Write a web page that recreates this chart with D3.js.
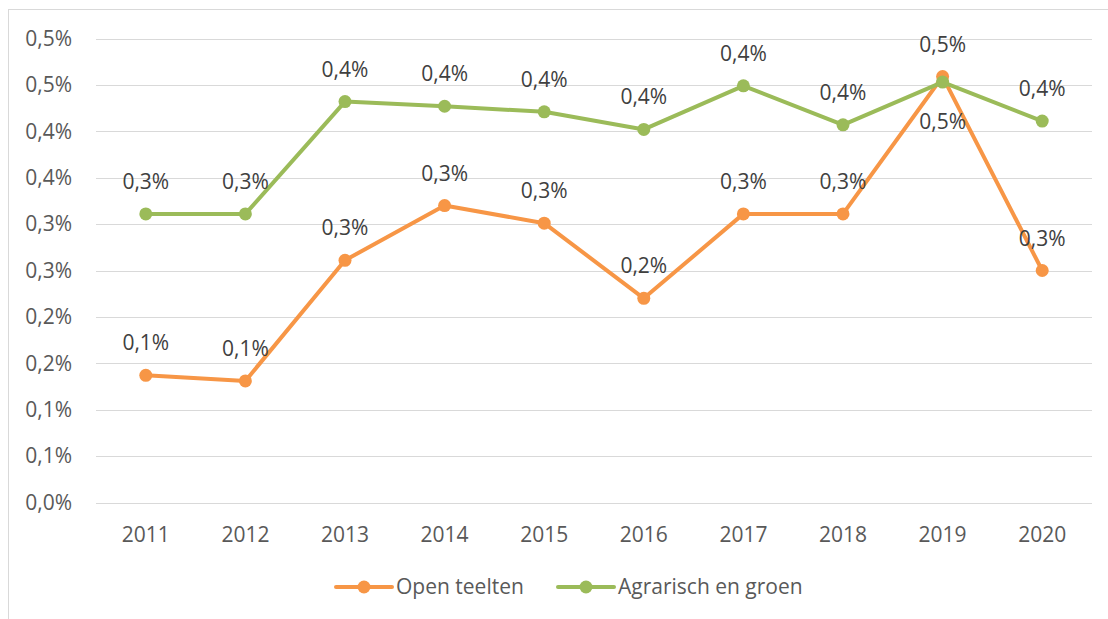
<!DOCTYPE html>
<html>
<head>
<meta charset="utf-8">
<script src="https://cdn.jsdelivr.net/npm/d3@7"></script>
<style>
  body { margin: 0; background: #fff; }
  svg { display: block; font-family: "Open Sans", "Noto Sans", sans-serif; }
</style>
</head>
<body>
<div id="chart"></div>
<script>
// Data (values in percent)
const years = ["2011", "2012", "2013", "2014", "2015", "2016", "2017", "2018", "2019", "2020"]
const openTeelten = [0.137, 0.131, 0.261, 0.320, 0.301, 0.220, 0.311, 0.311, 0.459, 0.250]
const agrarischGroen = [0.311, 0.311, 0.432, 0.427, 0.421, 0.402, 0.449, 0.407, 0.453, 0.411]
const seriesNames = ["Open teelten", "Agrarisch en groen"]
const yTicks = [0, 0.05, 0.1, 0.15, 0.2, 0.25, 0.3, 0.35, 0.4, 0.45, 0.5]

const colors = ["#F79646", "#9BBB59"]
const width = 1108, height = 619
const margin = { left: 96, right: 16, top: 38.5, bottom: 116.5 }
const fontSize = 21

// format like Excel: one decimal, comma
const fmt = v => (Math.round(v * 10 + 1e-9) / 10).toFixed(1).replace(".", ",") + "%"

const svg = d3.select("#chart").append("svg")
    .attr("width", width)
    .attr("height", height)

// chart border (only left/top visible in the crop)
svg.append("rect")
    .attr("x", 8.5).attr("y", 9.5)
    .attr("width", 1200).attr("height", 700)
    .attr("fill", "none")
    .attr("stroke", "#D9D9D9")

const xScale = d3.scaleBand()
    .domain(years)
    .range([margin.left, width - margin.right])

const yScale = d3.scaleLinear()
    .domain([0, 0.5])
    .range([height - margin.bottom, margin.top])

// gridlines
svg.append("g")
    .selectAll("line")
    .data(yTicks)
    .enter()
    .append("line")
    .attr("x1", margin.left)
    .attr("x2", width - margin.right)
    .attr("y1", d => Math.round(yScale(d)) + 0.5)
    .attr("y2", d => Math.round(yScale(d)) + 0.5)
    .attr("stroke", "#D9D9D9")
    .attr("stroke-width", 1)

// y axis
const yAxis = d3.axisLeft(yScale).tickValues(yTicks).tickFormat(fmt).tickSize(0).tickPadding(24)
svg.append("g")
    .attr("transform", `translate(${margin.left},0)`)
    .call(yAxis)
    .call(g => g.select(".domain").remove())
    .selectAll("text")
    .attr("fill", "#595959")
    .attr("font-size", fontSize)
    .attr("font-family", "Open Sans")

// x axis
const xAxis = d3.axisBottom(xScale).tickSize(0).tickPadding(25)
svg.append("g")
    .attr("transform", `translate(0,${height - margin.bottom})`)
    .call(xAxis)
    .call(g => g.select(".domain").remove())
    .selectAll("text")
    .attr("fill", "#595959")
    .attr("font-size", fontSize)
    .attr("font-family", "Open Sans")

const cx = d => xScale(d) + xScale.bandwidth() / 2
const line = d3.line()
    .x(d => cx(d.year))
    .y(d => yScale(d.value))

const allSeries = [openTeelten, agrarischGroen].map((vals, i) => ({
    name: seriesNames[i],
    color: colors[i],
    points: vals.map((v, j) => ({ year: years[j], value: v }))
}))

allSeries.forEach((s, i) => {
    const g = svg.append("g")
    g.append("path")
        .datum(s.points)
        .attr("d", line)
        .attr("fill", "none")
        .attr("stroke", s.color)
        .attr("stroke-width", 4)
        .attr("stroke-linejoin", "round")
        .attr("stroke-linecap", "round")
    g.selectAll("circle")
        .data(s.points)
        .enter()
        .append("circle")
        .attr("cx", d => cx(d.year))
        .attr("cy", d => yScale(d.value))
        .attr("r", 6.5)
        .attr("fill", s.color)
})

// data labels (green 2019 sits below its point)
allSeries.forEach((s, i) => {
    svg.append("g")
        .selectAll("text")
        .data(s.points)
        .enter()
        .append("text")
        .attr("x", d => cx(d.year))
        .attr("y", d => (i === 1 && d.year === "2019") ? yScale(d.value) + 47 : yScale(d.value) - 25)
        .attr("text-anchor", "middle")
        .attr("fill", "#404040")
        .attr("font-size", fontSize)
        .text(d => fmt(d.value))
})

// legend
const legendX = [336, 558]
const legend = svg.append("g").attr("transform", "translate(0,587)")
allSeries.forEach((s, i) => {
    const lg = legend.append("g").attr("transform", `translate(${legendX[i]},0)`)
    lg.append("line")
        .attr("x1", 0).attr("x2", 56)
        .attr("stroke", s.color)
        .attr("stroke-width", 4)
        .attr("stroke-linecap", "round")
    lg.append("circle")
        .attr("cx", 28).attr("r", 6.5)
        .attr("fill", s.color)
    lg.append("text")
        .attr("x", 60).attr("y", 7)
        .attr("fill", "#595959")
        .attr("font-size", fontSize)
        .text(s.name)
})
</script>
</body>
</html>
